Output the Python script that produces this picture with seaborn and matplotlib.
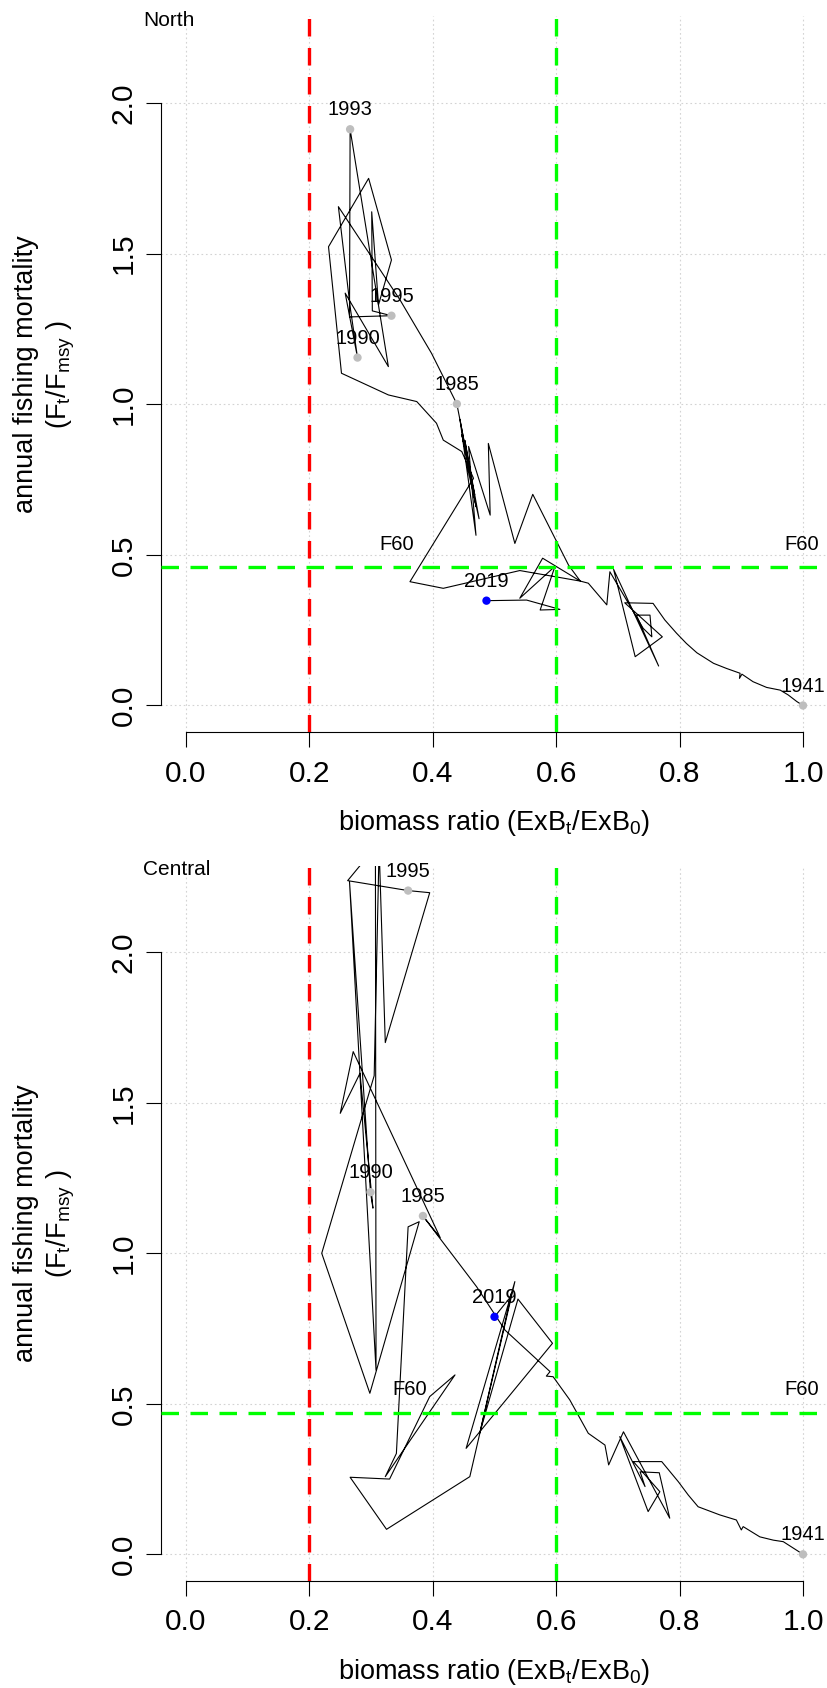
import numpy as np
import pandas as pd
import matplotlib
matplotlib.use("Agg")
import matplotlib.pyplot as plt
import seaborn as sns

# ---- North: biomass ratio (ExB_t/ExB_0) and F_t/F_msy, one vertex per year-step
north_biomass = [
    1.000, 0.990, 0.976, 0.963, 0.941, 0.919, 0.901, 0.897, 0.898, 0.876,
    0.855, 0.828, 0.811, 0.795, 0.776, 0.757, 0.711, 0.772, 0.728, 0.693,
    0.766, 0.730, 0.752, 0.755, 0.741, 0.687, 0.682, 0.652, 0.639, 0.620,
    0.562, 0.533, 0.490, 0.493, 0.458, 0.470, 0.444, 0.470, 0.452, 0.475,
    0.455, 0.468, 0.447, 0.462, 0.439,
    0.398, 0.347, 0.247, 0.266, 0.278, 0.258, 0.328, 0.266, 0.265, 0.333,
    0.302, 0.301, 0.312, 0.333, 0.296, 0.231, 0.252, 0.328, 0.374, 0.406,
    0.417, 0.447, 0.466, 0.363, 0.417, 0.541, 0.639, 0.578, 0.541, 0.598,
    0.574, 0.606, 0.552, 0.487,
]
north_fmort = [
    0.000, 0.013, 0.035, 0.051, 0.060, 0.079, 0.104, 0.090, 0.107, 0.123,
    0.140, 0.175, 0.206, 0.240, 0.284, 0.339, 0.341, 0.228, 0.162, 0.452,
    0.131, 0.300, 0.300, 0.228, 0.256, 0.444, 0.334, 0.406, 0.413, 0.466,
    0.701, 0.538, 0.870, 0.632, 0.860, 0.565, 0.950, 0.660, 0.880, 0.620,
    0.800, 0.700, 0.900, 0.760, 1.001,
    1.169, 1.346, 1.656, 1.324, 1.155, 1.369, 1.125, 1.913, 1.290, 1.294,
    1.310, 1.639, 1.330, 1.479, 1.750, 1.523, 1.103, 1.031, 1.009, 0.937,
    0.881, 0.843, 0.754, 0.411, 0.389, 0.448, 0.413, 0.489, 0.356, 0.462,
    0.317, 0.319, 0.350, 0.348,
]
north_label_years = [1941, 1985, 1990, 1993, 1995, 2019]
north_label_idx = [0, 44, 49, 52, 54, 78]
north_f60 = 0.459
north_f60_label_x = [0.341, 0.998]

# ---- Central
central_biomass = [
    1.000, 0.968, 0.952, 0.930, 0.903, 0.900, 0.892, 0.865, 0.830, 0.814,
    0.798, 0.771, 0.725, 0.768, 0.749, 0.703, 0.744, 0.736, 0.767, 0.784,
    0.709, 0.685, 0.679, 0.652, 0.622, 0.595, 0.584, 0.590, 0.517, 0.471,
    0.384,
    0.412, 0.271, 0.250, 0.282, 0.303, 0.299, 0.265, 0.308, 0.307, 0.262,
    0.360, 0.395, 0.323, 0.313, 0.305, 0.220, 0.298, 0.378, 0.360, 0.341,
    0.323, 0.436, 0.395, 0.330, 0.266, 0.325, 0.460, 0.533, 0.454, 0.594,
    0.538, 0.476, 0.528, 0.524, 0.500,
]
central_fmort = [
    0.000, 0.042, 0.047, 0.058, 0.092, 0.081, 0.114, 0.131, 0.158, 0.197,
    0.241, 0.308, 0.308, 0.208, 0.142, 0.391, 0.225, 0.274, 0.271, 0.120,
    0.407, 0.297, 0.363, 0.402, 0.513, 0.590, 0.592, 0.607, 0.745, 0.889,
    1.124,
    1.052, 1.670, 1.465, 1.598, 1.150, 1.203, 2.235, 0.612, 2.350, 2.238,
    2.205, 2.198, 1.700, 2.350, 1.590, 1.000, 0.535, 1.105, 1.088, 0.335,
    0.258, 0.596, 0.524, 0.250, 0.256, 0.083, 0.258, 0.906, 0.352, 0.701,
    0.848, 0.402, 0.870, 0.850, 0.789,
]
central_label_years = [1941, 1985, 1990, 1995, 2019]
central_label_idx = [0, 30, 36, 41, 65]
central_f60 = 0.471
central_f60_label_x = [0.362, 0.998]

# reference points on the biomass axis
b_limit = 0.2
b_target = 0.6

x_ticks = [0.0, 0.2, 0.4, 0.6, 0.8, 1.0]
x_tick_labels = ["0.0", "0.2", "0.4", "0.6", "0.8", "1.0"]
y_ticks = [0.0, 0.5, 1.0, 1.5, 2.0]
y_tick_labels = ["0.0", "0.5", "1.0", "1.5", "2.0"]

sns.set_theme(style="ticks", rc={
    "axes.edgecolor": "black", "xtick.color": "black", "ytick.color": "black",
    "text.color": "black", "axes.labelcolor": "black",
})
plt.rcParams["font.family"] = ["Liberation Sans", "DejaVu Sans"]
plt.rcParams["mathtext.default"] = "regular"

W, H = 827, 1688
fig = plt.figure(figsize=(W / 100, H / 100), dpi=100)


def px_rect(left, top, right, bottom):
    return [left / W, 1 - bottom / H, (right - left) / W, (bottom - top) / H]


ax_north = fig.add_axes(px_rect(161.3, 16.3, 827.7, 732.0))
ax_central = fig.add_axes(px_rect(161.3, 865.6, 827.7, 1580.8))

dash = (0, (5.25, 3.45))
grid_ls = (0, (1.5, 2.5))


def draw_panel(ax, name, biomass, fmort, label_years, label_idx, f60, f60_label_x):
    ax.set_xlim(-0.04, 1.04)
    ax.set_ylim(-0.088, 2.288)

    ax.set_xticks(x_ticks)
    ax.set_xticklabels(x_tick_labels)
    ax.set_yticks(y_ticks)
    ax.set_yticklabels(y_tick_labels, rotation=90, va="center")
    ax.grid(True, color="#d3d3d3", lw=0.8, linestyle=grid_ls, zorder=0)

    traj = pd.DataFrame({"biomass": biomass, "fmort": fmort})
    sns.lineplot(data=traj, x="biomass", y="fmort", sort=False, estimator=None,
                 color="black", lw=0.8, ax=ax, zorder=2)

    pts = traj.iloc[label_idx].copy()
    pts["year"] = label_years
    sns.scatterplot(data=pts.iloc[:-1], x="biomass", y="fmort", color="#bebebe",
                    s=36, edgecolor="none", ax=ax, zorder=4)
    sns.scatterplot(data=pts.iloc[-1:], x="biomass", y="fmort", color="#0000ff",
                    s=36, edgecolor="none", ax=ax, zorder=4)
    for _, row in pts.iterrows():
        ax.annotate(str(int(row["year"])), (row["biomass"], row["fmort"]),
                    xytext=(0, 14), textcoords="offset points",
                    ha="center", va="center", fontsize=14.5, zorder=5)

    ax.axvline(b_limit, color="#ff0000", lw=2.4, linestyle=dash, zorder=3)
    ax.axvline(b_target, color="#00ff00", lw=2.4, linestyle=dash, zorder=3)
    ax.axhline(f60, color="#00ff00", lw=2.4, linestyle=dash, zorder=3)
    for lx in f60_label_x:
        ax.annotate("F60", (lx, f60), xytext=(0, 16.5), textcoords="offset points",
                    ha="center", va="center", fontsize=14.5, zorder=5)

    ax.text(-0.0275, 0.987, name, transform=ax.transAxes, ha="left",
            va="baseline", fontsize=15, clip_on=False)

    for side in ("top", "right"):
        ax.spines[side].set_visible(False)
    ax.spines["left"].set_bounds(0, 2)
    ax.spines["bottom"].set_bounds(0, 1)
    for side in ("left", "bottom"):
        ax.spines[side].set_linewidth(0.8)

    ax.tick_params(axis="both", direction="out", length=10.8, width=0.8,
                   labelsize=21.5)
    ax.tick_params(axis="x", pad=9)
    ax.tick_params(axis="y", pad=6.3)

    ax.set_xlabel("biomass ratio (ExB$_t$/ExB$_0$)", fontsize=19.5)
    ax.xaxis.set_label_coords(0.5, -0.1062)
    ax.set_ylabel("annual fishing mortality\n(F$_t$/F$_{msy}$ )", fontsize=19.5,
                  linespacing=1.25)
    ax.yaxis.set_label_coords(-0.1265, 0.5)


draw_panel(ax_north, "North", north_biomass, north_fmort, north_label_years,
           north_label_idx, north_f60, north_f60_label_x)
draw_panel(ax_central, "Central", central_biomass, central_fmort,
           central_label_years, central_label_idx, central_f60, central_f60_label_x)

fig.savefig("out.png", dpi=100)
